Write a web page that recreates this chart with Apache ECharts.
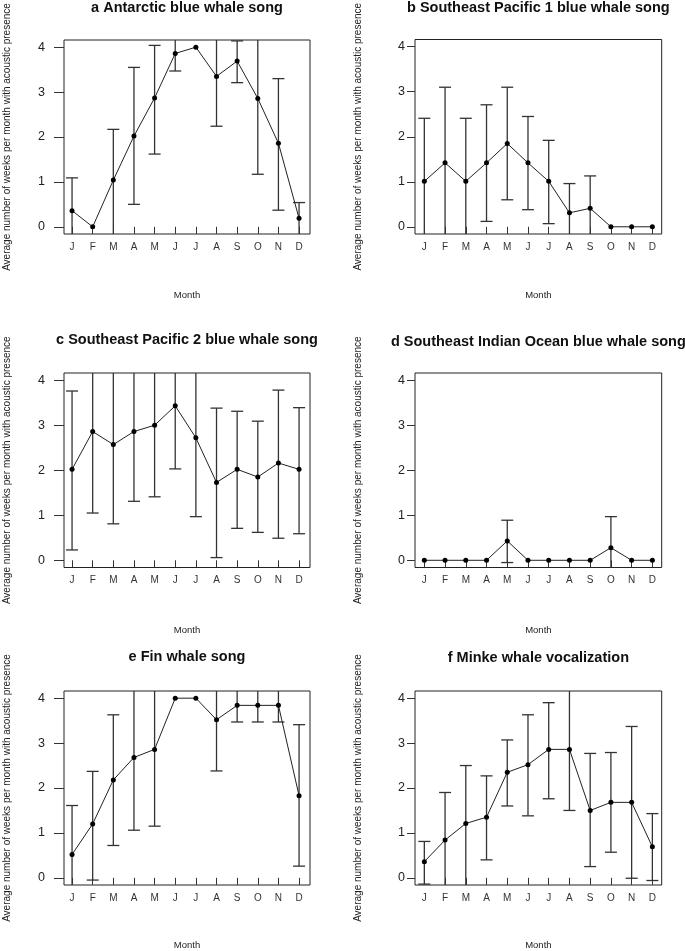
<!DOCTYPE html>
<html>
<head>
<meta charset="utf-8">
<script src="https://cdn.jsdelivr.net/npm/echarts@6/dist/echarts.min.js"></script>
<style>
html,body{margin:0;padding:0;background:#fff;}
#chart{width:685px;height:951px;}
</style>
</head>
<body>
<div id="chart"></div>
<script>
const months = ['J','F','M','A','M','J','J','A','S','O','N','D'];
const yTicks = [0,1,2,3,4];

const titles = [
  'a Antarctic blue whale song',
  'b Southeast Pacific 1 blue whale song',
  'c Southeast Pacific 2 blue whale song',
  'd Southeast Indian Ocean blue whale song',
  'e Fin whale song',
  'f Minke whale vocalization'
];

const meanA = [0.36, 0, 1.04, 2.02, 2.87, 3.86, 4.0, 3.35, 3.69, 2.86, 1.86, 0.19];
const hiA   = [1.09, 0, 2.17, 3.55, 4.04, 4.25, 4.0, 4.46, 4.14, 4.55, 3.30, 0.54];
const loA   = [-0.37, 0, -0.2, 0.50, 1.62, 3.47, 4.0, 2.24, 3.21, 1.17, 0.37, -0.2];

const meanB = [1.01, 1.42, 1.01, 1.42, 1.85, 1.42, 1.01, 0.31, 0.41, 0, 0, 0];
const hiB   = [2.41, 3.10, 2.41, 2.71, 3.10, 2.45, 1.92, 0.96, 1.13, 0, 0, 0];
const loB   = [-0.39, -0.26, -0.39, 0.12, 0.60, 0.38, 0.07, -0.34, -0.31, 0, 0, 0];

const meanC = [2.02, 2.86, 2.57, 2.86, 3.00, 3.43, 2.72, 1.73, 2.02, 1.85, 2.16, 2.02];
const hiC   = [3.76, 4.67, 4.33, 4.41, 4.59, 4.83, 4.47, 3.38, 3.31, 3.09, 3.78, 3.39];
const loC   = [0.23, 1.05, 0.81, 1.31, 1.41, 2.03, 0.97, 0.06, 0.71, 0.62, 0.49, 0.59];

const meanD = [0, 0, 0, 0, 0.43, 0, 0, 0, 0, 0.28, 0, 0];
const hiD   = [0, 0, 0, 0, 0.89, 0, 0, 0, 0, 0.97, 0, 0];
const loD   = [0, 0, 0, 0, -0.05, 0, 0, 0, 0, -0.41, 0, 0];

const meanE = [0.52, 1.20, 2.18, 2.68, 2.86, 4.0, 4.0, 3.52, 3.84, 3.84, 3.84, 1.83];
const hiE   = [1.61, 2.37, 3.63, 4.30, 4.57, 4.0, 4.0, 4.66, 4.21, 4.21, 4.21, 3.41];
const loE   = [-0.57, -0.05, 0.72, 1.06, 1.15, 4.0, 4.0, 2.38, 3.47, 3.47, 3.47, 0.26];

const meanF = [0.36, 0.84, 1.21, 1.35, 2.35, 2.52, 2.86, 2.86, 1.50, 1.68, 1.68, 0.69];
const hiF   = [0.81, 1.90, 2.50, 2.27, 3.07, 3.63, 3.90, 4.22, 2.77, 2.79, 3.37, 1.43];
const loF   = [-0.14, -0.22, -0.2, 0.40, 1.60, 1.38, 1.76, 1.50, 0.25, 0.57, -0.01, -0.06];

const panels = [
  {mean: meanA, hi: hiA, lo: loA},
  {mean: meanB, hi: hiB, lo: loB},
  {mean: meanC, hi: hiC, lo: loC},
  {mean: meanD, hi: hiD, lo: loD},
  {mean: meanE, hi: hiE, lo: loE},
  {mean: meanF, hi: hiF, lo: loF}
];

const FONT = "'Liberation Sans', Arial, sans-serif";
// layout boxes: [left, top, width, height]
const boxes = [
  [64, 40, 246, 194],
  [415, 39.5, 246.7, 194.5],
  [64, 373, 246, 194.5],
  [415, 373, 246.7, 194.5],
  [64, 691, 246, 194],
  [415, 691, 246.7, 194]
];
const titleY = [8, 8, 340, 342, 657, 658];

const chart = echarts.init(document.getElementById('chart'), null, {renderer: 'canvas'});

const option = {
  animation: false,
  backgroundColor: '#ffffff',
  title: [],
  grid: [],
  xAxis: [],
  yAxis: [],
  series: []
};

panels.forEach((p, k) => {
  const b = boxes[k];
  const leftCol = (k % 2 === 0);
  option.title.push({
    text: titles[k],
    left: b[0] + b[2] / 2,
    top: titleY[k] - 8,
    padding: 0,
    textAlign: 'center',
    textStyle: {fontFamily: FONT, fontSize: 14.5, fontWeight: 'bold', color: '#111'}
  });
  option.grid.push({
    left: b[0], top: b[1], width: b[2], height: b[3],
    show: true, borderColor: '#222', borderWidth: 1, backgroundColor: 'transparent',
    containLabel: false
  });
  option.xAxis.push({
    type: 'value',
    gridIndex: k,
    min: leftCol ? 0.61 : 0.55,
    max: leftCol ? 12.53 : 12.45,
    splitLine: {show: false},
    axisLine: {show: false},
    axisTick: {show: true, length: 7, inside: false, customValues: months.map((m, i) => i + 1),
               lineStyle: {color: '#333', width: 1}},
    axisLabel: {
      show: true, margin: 8, customValues: months.map((m, i) => i + 1),
      formatter: v => months[Math.round(v) - 1] || '',
      fontFamily: FONT, fontSize: 10, color: '#333'
    },
    name: 'Month',
    nameLocation: 'middle',
    nameGap: k < 2 ? 61 : (k < 4 ? 63 : 60),
    nameTextStyle: {fontFamily: FONT, fontSize: 9.5, color: '#222', verticalAlign: 'middle'}
  });
  option.yAxis.push({
    type: 'value',
    gridIndex: k,
    min: -0.16,
    max: 4.16,
    splitLine: {show: false},
    axisLine: {show: false},
    axisTick: {show: true, length: leftCol ? 10 : 8, inside: false, customValues: yTicks,
               lineStyle: {color: '#333', width: 1}},
    axisLabel: {show: true, margin: leftCol ? 19 : 10, customValues: yTicks,
                fontFamily: FONT, fontSize: 12.5, color: '#222'},
    name: 'Average number of weeks per month with acoustic presence',
    nameLocation: 'middle',
    nameGap: 57,
    nameRotate: 90,
    nameTextStyle: {fontFamily: FONT, fontSize: 10, color: '#222', verticalAlign: 'middle'}
  });
  option.series.push({
    type: 'custom',
    xAxisIndex: k,
    yAxisIndex: k,
    z: 2,
    encode: {x: 0, y: [1, 2]},
    data: months.map((m, i) => [i + 1, p.lo[i], p.hi[i]]),
    renderItem: function (params, api) {
      const x = api.value(0), lo = api.value(1), hi = api.value(2);
      if (hi - lo < 1e-6) return null;
      const cs = params.coordSys;
      const top = cs.y, bottom = cs.y + cs.height;
      const pHi = api.coord([x, hi]);
      const pLo = api.coord([x, lo]);
      const px = pHi[0];
      const yT = Math.max(pHi[1], top);
      const yB = Math.min(pLo[1], bottom);
      const style = {stroke: '#333', lineWidth: 1.3, fill: null};
      const children = [{type: 'line', shape: {x1: px, y1: yT, x2: px, y2: yB}, style: style}];
      const hw = 6;
      if (pHi[1] >= top - 0.5) children.push({type: 'line', shape: {x1: px - hw, y1: pHi[1], x2: px + hw, y2: pHi[1]}, style: style});
      if (pLo[1] <= bottom + 0.5) children.push({type: 'line', shape: {x1: px - hw, y1: pLo[1], x2: px + hw, y2: pLo[1]}, style: style});
      return {type: 'group', children: children};
    }
  });
  option.series.push({
    type: 'line',
    xAxisIndex: k,
    yAxisIndex: k,
    z: 3,
    data: months.map((m, i) => [i + 1, p.mean[i]]),
    symbol: 'circle',
    symbolSize: 5,
    showSymbol: true,
    lineStyle: {color: '#222', width: 1},
    itemStyle: {color: '#000'},
    emphasis: {disabled: true},
    silent: true
  });
});

chart.setOption(option);
</script>
</body>
</html>
